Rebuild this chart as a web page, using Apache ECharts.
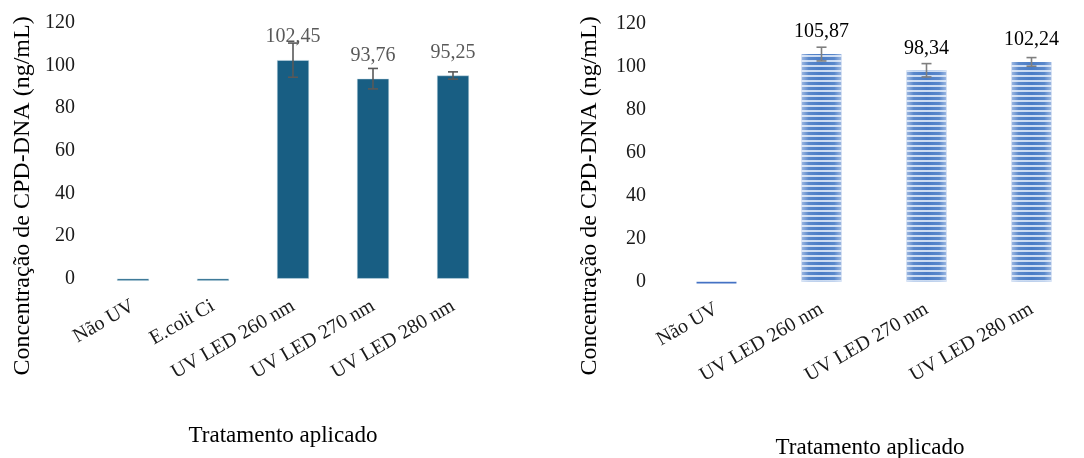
<!DOCTYPE html>
<html>
<head>
<meta charset="utf-8">
<script src="https://cdn.jsdelivr.net/npm/echarts@6/dist/echarts.min.js"></script>
<style>
  html, body { margin: 0; padding: 0; background: #fff; }
  #chart { width: 1084px; height: 458px; }
</style>
</head>
<body>
<div id="chart"></div>
<script>
// Left panel: CPD-DNA concentration per treatment (with E.coli Ci control)
const categoriesLeft = ['Não UV', 'E.coli Ci', 'UV LED 260 nm', 'UV LED 270 nm', 'UV LED 280 nm'];
const valuesLeft = [-1, -1, 102.45, 93.76, 95.25];
const errorsLeft = [0, 0, 8.0, 4.8, 1.7];

// Right panel: CPD-DNA concentration per treatment
const categoriesRight = ['Não UV', 'UV LED 260 nm', 'UV LED 270 nm', 'UV LED 280 nm'];
const valuesRight = [-0.8, 105.87, 98.34, 102.24];
const errorsRight = [0, 3.2, 3.1, 2.0];

// Shared value axis
const yMin = 0, yMax = 120, yStep = 20;

const axisTitle = 'Concentração de CPD-DNA (ng/mL)';
const xTitle = 'Tratamento aplicado';
const FONT = '"Liberation Serif", "Times New Roman", serif';

const fmtComma = v => v.toFixed(2).replace('.', ',');

function barData(values, smallStyle) {
  return values.map(v => {
    const item = { value: v };
    if (v <= 0) {
      item.label = { show: false };
      if (smallStyle) item.itemStyle = smallStyle;
    }
    return item;
  });
}

function errorData(values, errors) {
  const out = [];
  values.forEach((v, i) => {
    if (errors[i] > 0) out.push([i, v - errors[i], v + errors[i]]);
  });
  return out;
}

function errorSeries(idx, data, color) {
  return {
    type: 'custom',
    xAxisIndex: idx, yAxisIndex: idx,
    data: data,
    encode: { x: 0, y: [1, 2] },
    z: 5,
    silent: true,
    renderItem: function (params, api) {
      const lo = api.coord([api.value(0), api.value(1)]);
      const hi = api.coord([api.value(0), api.value(2)]);
      const cap = 5;
      const style = { stroke: color, lineWidth: 1.6 };
      return {
        type: 'group',
        children: [
          { type: 'line', shape: { x1: lo[0], y1: lo[1], x2: hi[0], y2: hi[1] }, style },
          { type: 'line', shape: { x1: lo[0] - cap, y1: lo[1], x2: lo[0] + cap, y2: lo[1] }, style },
          { type: 'line', shape: { x1: hi[0] - cap, y1: hi[1], x2: hi[0] + cap, y2: hi[1] }, style }
        ]
      };
    }
  };
}

function valueAxis(idx) {
  return {
    type: 'value', gridIndex: idx,
    min: yMin, max: yMax, interval: yStep,
    axisLine: { show: false }, axisTick: { show: false },
    splitLine: { show: false },
    axisLabel: { fontFamily: FONT, fontSize: 20, color: '#1a1a1a', margin: 18 }
  };
}

function categoryAxis(idx, cats) {
  return {
    type: 'category', gridIndex: idx, data: cats,
    axisLine: { show: false }, axisTick: { show: false },
    axisLabel: { fontFamily: FONT, fontSize: 20, color: '#1a1a1a', rotate: 30, margin: 26, interval: 0 }
  };
}

const stripeFill = {
  type: 'linear', x: 0, y: 0, x2: 1, y2: 0,
  colorStops: [
    { offset: 0, color: '#9db8e2' },
    { offset: 0.18, color: '#5a88cb' },
    { offset: 0.5, color: '#4a7cc6' },
    { offset: 0.82, color: '#5a88cb' },
    { offset: 1, color: '#9db8e2' }
  ]
};

const chart = echarts.init(document.getElementById('chart'), null, { renderer: 'canvas' });

chart.setOption({
  animation: false,
  backgroundColor: '#ffffff',
  grid: [
    { left: 93, top: 22.7, width: 400, height: 256 },
    { left: 664, top: 23.7, width: 423, height: 258 }
  ],
  xAxis: [categoryAxis(0, categoriesLeft), categoryAxis(1, categoriesRight)],
  yAxis: [valueAxis(0), valueAxis(1)],
  series: [
    {
      type: 'bar', xAxisIndex: 0, yAxisIndex: 0,
      barWidth: '40%', clip: false,
      data: barData(valuesLeft),
      itemStyle: { color: '#185e83', borderColor: '#cfe0ea', borderWidth: 0.5 },
      label: {
        show: true, position: 'top', distance: 13,
        fontFamily: FONT, fontSize: 20, color: '#595959',
        formatter: p => fmtComma(p.value)
      }
    },
    errorSeries(0, errorData(valuesLeft, errorsLeft), '#595959'),
    {
      type: 'bar', xAxisIndex: 1, yAxisIndex: 1,
      barWidth: '38%', clip: false,
      data: barData(valuesRight, { color: '#4472c4', decal: null }),
      itemStyle: {
        color: stripeFill,
        decal: {
          symbol: 'rect', symbolSize: 1,
          color: 'rgba(235,242,252,0.8)',
          dashArrayX: [[1, 0]],
          dashArrayY: [2, 2.4],
          rotation: 0
        }
      },
      label: {
        show: true, position: 'top', distance: 12,
        fontFamily: FONT, fontSize: 20, color: '#000000',
        formatter: p => fmtComma(p.value)
      }
    },
    errorSeries(1, errorData(valuesRight, errorsRight), '#7f7f7f')
  ],
  graphic: [
    {
      type: 'text', x: 23, y: 196, rotation: Math.PI / 2,
      style: { text: axisTitle, font: '24px ' + FONT, fill: '#000', textAlign: 'center', textVerticalAlign: 'middle' }
    },
    {
      type: 'text', x: 590, y: 196, rotation: Math.PI / 2,
      style: { text: axisTitle, font: '24px ' + FONT, fill: '#000', textAlign: 'center', textVerticalAlign: 'middle' }
    },
    {
      type: 'text', x: 283, y: 436,
      style: { text: xTitle, font: '23px ' + FONT, fill: '#000', textAlign: 'center', textVerticalAlign: 'middle' }
    },
    {
      type: 'text', x: 870, y: 448,
      style: { text: xTitle, font: '23px ' + FONT, fill: '#000', textAlign: 'center', textVerticalAlign: 'middle' }
    }
  ]
});
</script>
</body>
</html>
